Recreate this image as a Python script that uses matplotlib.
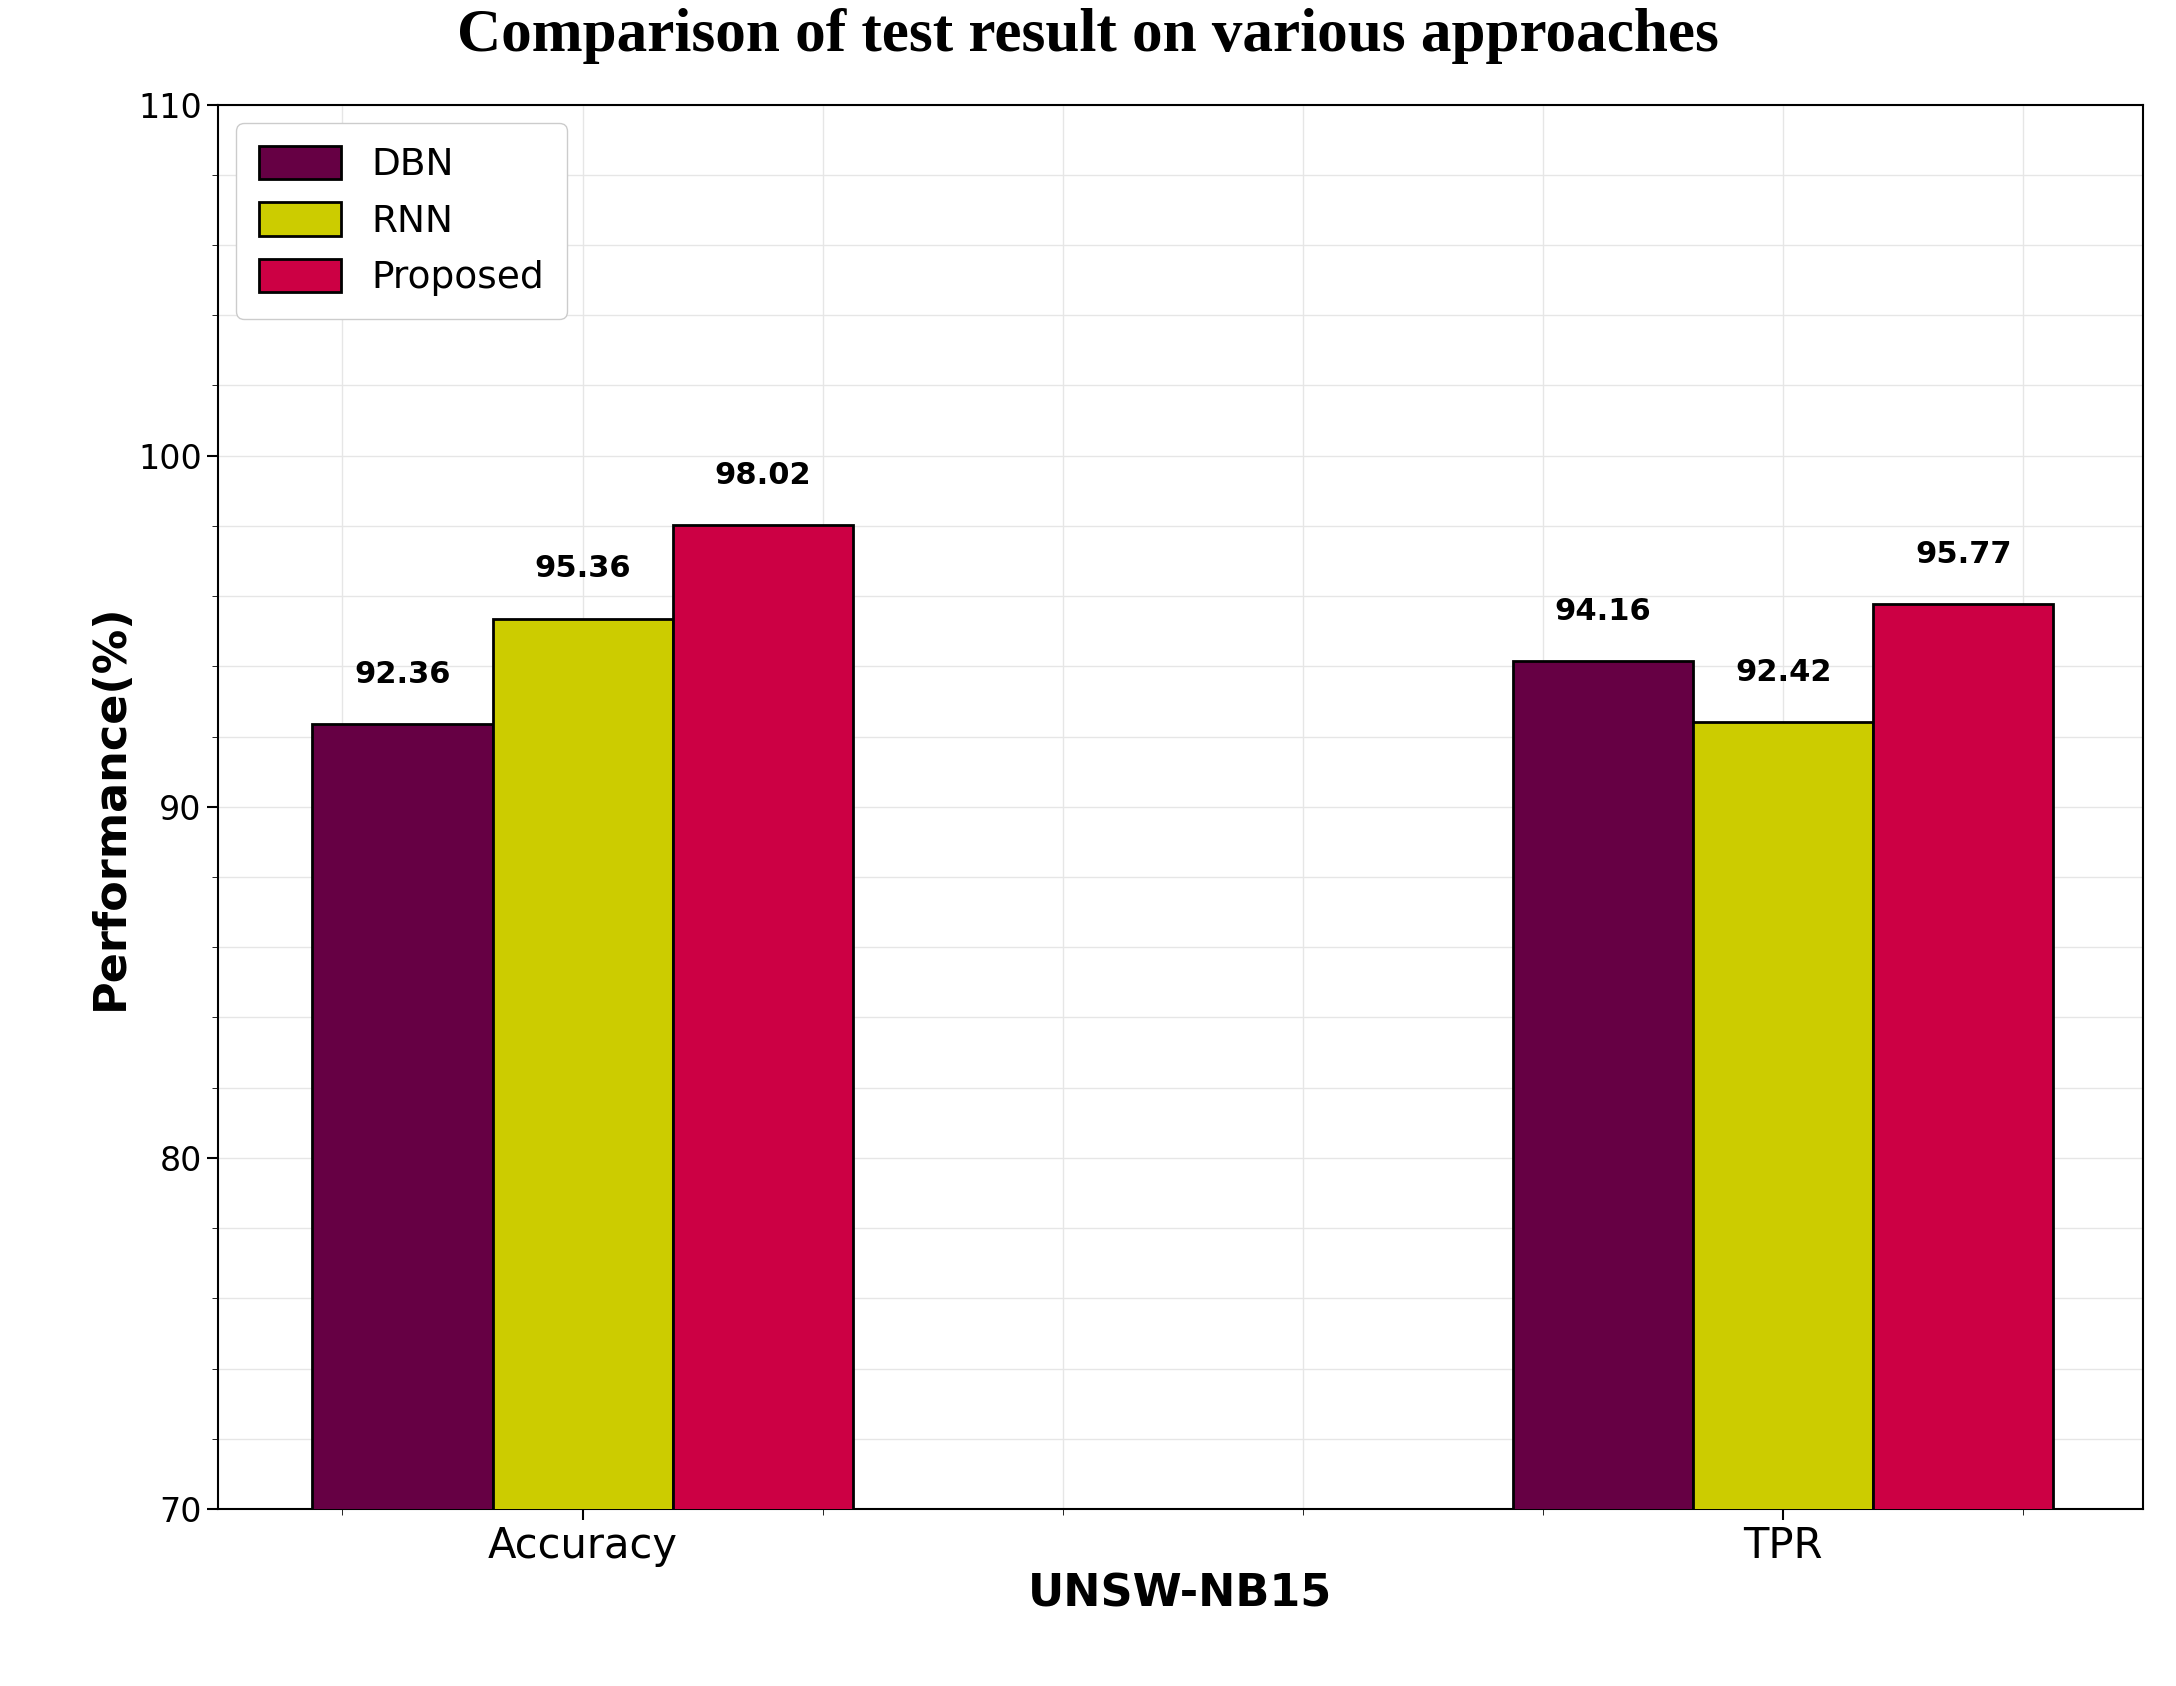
import numpy as np
import matplotlib.pyplot as plt
from matplotlib.ticker import MultipleLocator

# dados do grafico
metricas = ['Accuracy', 'TPR']
metodos = ['DBN', 'RNN', 'Proposed']
valores = {
    'DBN': [92.36, 94.16],
    'RNN': [95.36, 92.42],
    'Proposed': [98.02, 95.77],
}
cores = ['#660044', '#cccc00', '#cc0044']

fig = plt.figure(figsize=(21.76, 16.86), dpi=100)
ax = fig.add_axes([0.100, 0.105, 0.885, 0.833])

x = np.arange(len(metricas))
largura = 0.15
for i, (m, c) in enumerate(zip(metodos, cores)):
    pos = x + (i - 1) * largura
    barras = ax.bar(pos, valores[m], largura, color=c, edgecolor='black',
                    linewidth=2, label=m, zorder=3)
    for b, v in zip(barras, valores[m]):
        ax.text(b.get_x() + b.get_width() / 2, v + 1.0, f'{v:.2f}',
                ha='center', va='bottom', fontsize=22, fontweight='bold')

ax.set_ylim(70, 110)
ax.set_xlim(-0.304, 1.30)
ax.set_xticks(x)
ax.set_xticklabels(metricas, fontsize=30)
ax.xaxis.set_minor_locator(MultipleLocator(0.2))
ax.yaxis.set_major_locator(MultipleLocator(10))
ax.yaxis.set_minor_locator(MultipleLocator(2))
ax.tick_params(axis='y', labelsize=24)
ax.tick_params(which='major', length=8, width=1.5)
ax.tick_params(which='minor', length=4)
ax.grid(which='both', color='#e6e6e6', linewidth=1, zorder=0)
for s in ax.spines.values():
    s.set_linewidth(1.5)

ax.set_xlabel('UNSW-NB15', fontsize=32, fontweight='bold')
ax.set_ylabel('Performance(%)', fontsize=32, fontweight='bold')
fig.suptitle('Comparison of test result on various approaches',
             family='Liberation Serif', fontsize=44, fontweight='bold', y=0.995)

ax.legend(loc='upper left', fontsize=27, handlelength=2.2, handleheight=1.0,
          borderpad=0.6, framealpha=1)

fig.savefig('out.png', dpi=100)
